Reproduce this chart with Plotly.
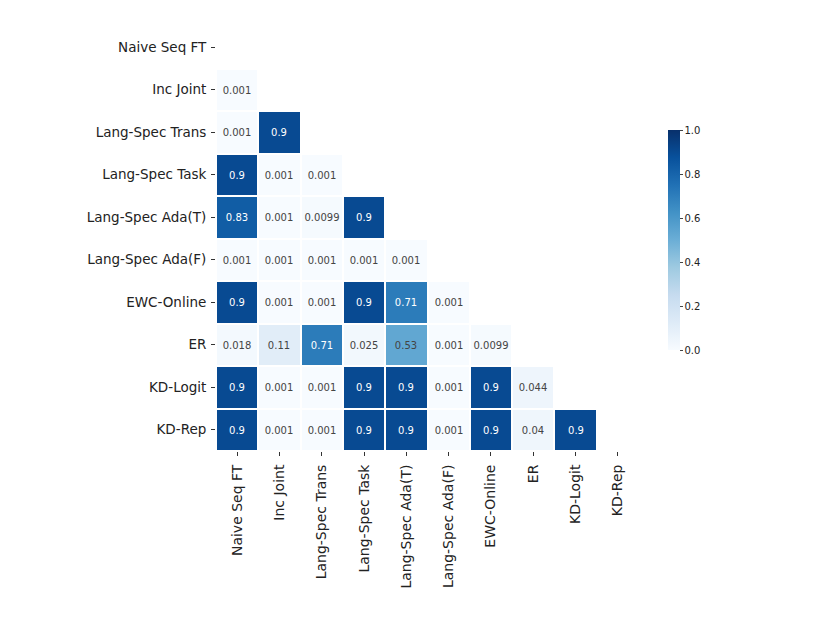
import numpy as np
import plotly.graph_objects as go

methods = ["Naive Seq FT", "Inc Joint", "Lang-Spec Trans", "Lang-Spec Task",
           "Lang-Spec Ada(T)", "Lang-Spec Ada(F)", "EWC-Online", "ER",
           "KD-Logit", "KD-Rep"]

# lower triangle, row by row (row i has i values)
row_inc_joint = [0.001]
row_trans = [0.001, 0.9]
row_task = [0.9, 0.001, 0.001]
row_ada_t = [0.83, 0.001, 0.0099, 0.9]
row_ada_f = [0.001, 0.001, 0.001, 0.001, 0.001]
row_ewc = [0.9, 0.001, 0.001, 0.9, 0.71, 0.001]
row_er = [0.018, 0.11, 0.71, 0.025, 0.53, 0.001, 0.0099]
row_kd_logit = [0.9, 0.001, 0.001, 0.9, 0.9, 0.001, 0.9, 0.044]
row_kd_rep = [0.9, 0.001, 0.001, 0.9, 0.9, 0.001, 0.9, 0.04, 0.9]

rows = [[], row_inc_joint, row_trans, row_task, row_ada_t, row_ada_f,
        row_ewc, row_er, row_kd_logit, row_kd_rep]

n = len(methods)
z = np.full((n, n), np.nan)
text = [["" for _ in range(n)] for _ in range(n)]
for i, r in enumerate(rows):
    for j, v in enumerate(r):
        z[i, j] = v
        text[i][j] = f"{v:g}"

font = "DejaVu Sans, sans-serif"

fig = go.Figure(go.Heatmap(
    z=z, x=methods, y=methods, text=text, texttemplate="%{text}",
    textfont=dict(size=10, family=font),
    colorscale="Blues", zmin=0, zmax=1, xgap=2, ygap=2,
    hoverongaps=False,
    colorbar=dict(x=1.045, xanchor="left", y=0.496, len=0.518, ypad=0,
                  thickness=12, outlinewidth=0,
                  tickvals=[0, 0.2, 0.4, 0.6, 0.8, 1.0],
                  ticktext=["0.0", "0.2", "0.4", "0.6", "0.8", "1.0"],
                  ticks="outside", ticklen=3, tickfont=dict(size=10, family=font)),
))

fig.update_layout(
    width=830, height=642, template="plotly_white",
    margin=dict(l=208, r=199, t=18, b=199),
    plot_bgcolor="white", paper_bgcolor="white",
    font=dict(family=font, color="#222"),
)
fig.update_xaxes(tickangle=-90, ticks="outside", ticklen=4, tickcolor="#333",
                 ticklabelstandoff=3,
                 showgrid=False, zeroline=False, tickfont=dict(size=14))
fig.update_yaxes(autorange="reversed", ticks="outside", ticklen=4, tickcolor="#333",
                 ticklabelstandoff=2,
                 showgrid=False, zeroline=False, tickfont=dict(size=13.5))

fig.write_html("out.html")
